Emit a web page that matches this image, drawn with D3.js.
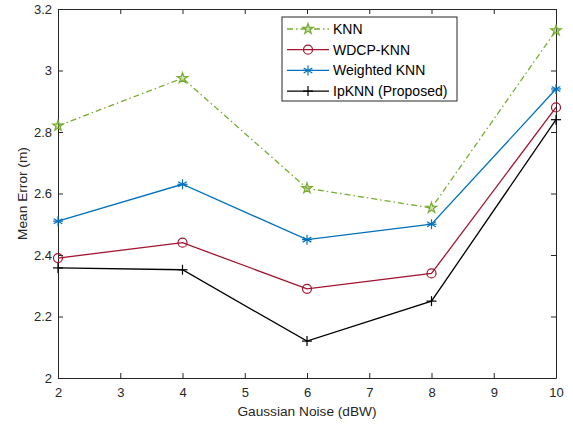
<!DOCTYPE html>
<html>
<head>
<meta charset="utf-8">
<style>
  body { margin: 0; background: #fff; font-family: "Liberation Sans", Arial, sans-serif; }
  .axis text { font-size: 13px; fill: #262626; }
  .axis path, .axis line { stroke: #262626; }
</style>
<title>Mean Error vs Gaussian Noise</title>
</head>
<body>
<script src="https://cdn.jsdelivr.net/npm/d3@7"></script>
<script>

// data
var noise = [2, 4, 6, 8, 10];
var knn      = [2.82, 2.975, 2.617, 2.553, 3.13];
var wdcpKnn  = [2.39, 2.44, 2.29, 2.34, 2.88];
var weighted = [2.51, 2.63, 2.45, 2.50, 2.94];
var ipKnn    = [2.358, 2.352, 2.12, 2.25, 2.84];
var xTicks = [2, 3, 4, 5, 6, 7, 8, 9, 10];
var yTicks = [2, 2.2, 2.4, 2.6, 2.8, 3, 3.2];

var series = [
  {name: "KNN", values: knn, color: "#77AC30", dash: "6,3,1.5,3", marker: "star"},
  {name: "WDCP-KNN", values: wdcpKnn, color: "#A2142F", dash: null, marker: "circle"},
  {name: "Weighted KNN", values: weighted, color: "#0072BD", dash: null, marker: "asterisk"},
  {name: "IpKNN (Proposed)", values: ipKnn, color: "#000000", dash: null, marker: "plus"}
];

var W = 573, H = 424;
var margin = {top: 9, right: 17, bottom: 46, left: 58};
var width = W - margin.left - margin.right,
    height = H - margin.top - margin.bottom;

var svg = d3.select("body").append("svg")
    .attr("width", W)
    .attr("height", H)
  .append("g")
    .attr("transform", `translate(${margin.left},${margin.top})`);

var x = d3.scaleLinear().domain([2, 10]).range([0, width]);
var y = d3.scaleLinear().domain([2, 3.2]).range([height, 0]);

var fmt = d => d3.format("~g")(d);

// axes, ticks pointing inward, mirrored on top/right
svg.append("g").attr("class", "axis")
    .attr("transform", `translate(0,${height})`)
    .call(d3.axisBottom(x).tickValues(xTicks).tickFormat(fmt).tickSizeInner(-5).tickSizeOuter(0).tickPadding(10));
svg.append("g").attr("class", "axis")
    .call(d3.axisLeft(y).tickValues(yTicks).tickFormat(fmt).tickSizeInner(-5).tickSizeOuter(0).tickPadding(6));
svg.append("g").attr("class", "axis")
    .call(d3.axisTop(x).tickValues(xTicks).tickFormat("").tickSizeInner(-5).tickSizeOuter(0));
svg.append("g").attr("class", "axis")
    .attr("transform", `translate(${width},0)`)
    .call(d3.axisRight(y).tickValues(yTicks).tickFormat("").tickSizeInner(-5).tickSizeOuter(0));

// marker drawer
function drawMarker(g, type, color) {
  if (type === "star") {
    g.append("path")
      .attr("d", d3.symbol().type(d3.symbolStar).size(34)())
      .attr("fill", color).attr("fill-opacity", 0.35)
      .attr("stroke", color).attr("stroke-width", 1.2);
  } else if (type === "circle") {
    g.append("circle").attr("r", 4.5)
      .attr("fill", "none").attr("stroke", color).attr("stroke-width", 1.2);
  } else if (type === "asterisk") {
    var r = 5;
    [0, 60, 120].forEach(function(a) {
      g.append("line").attr("x1", 0).attr("y1", -r).attr("x2", 0).attr("y2", r)
        .attr("transform", `rotate(${a})`)
        .attr("stroke", color).attr("stroke-width", 1.2);
    });
    g.append("line").attr("x1", -r).attr("x2", r).attr("y1", 0).attr("y2", 0)
      .attr("stroke", color).attr("stroke-width", 1.2);
  } else if (type === "plus") {
    var p = 5;
    g.append("line").attr("x1", -p).attr("x2", p).attr("y1", 0).attr("y2", 0)
      .attr("stroke", color).attr("stroke-width", 1.2);
    g.append("line").attr("x1", 0).attr("x2", 0).attr("y1", -p).attr("y2", p)
      .attr("stroke", color).attr("stroke-width", 1.2);
  }
}

var line = d3.line().x(d => x(d[0])).y(d => y(d[1]));

series.forEach(function(s) {
  var pts = noise.map((n, i) => [n, s.values[i]]);
  svg.append("path")
    .datum(pts)
    .attr("d", line)
    .attr("fill", "none")
    .attr("stroke", s.color)
    .attr("stroke-width", 1.3)
    .attr("stroke-dasharray", s.dash);
  pts.forEach(function(p) {
    var g = svg.append("g").attr("transform", `translate(${x(p[0])},${y(p[1])})`);
    drawMarker(g, s.marker, s.color);
  });
});

// legend
var lg = svg.append("g").attr("transform", `translate(${282 - margin.left},${17 - margin.top})`);
lg.append("rect")
  .attr("width", 175).attr("height", 84)
  .attr("fill", "#fff").attr("stroke", "#262626").attr("stroke-width", 1);
series.forEach(function(s, i) {
  var ry = 12 + i * 20.7;
  lg.append("line")
    .attr("x1", 5).attr("x2", 47).attr("y1", ry).attr("y2", ry)
    .attr("stroke", s.color).attr("stroke-width", 1.3)
    .attr("stroke-dasharray", s.dash);
  var g = lg.append("g").attr("transform", `translate(26,${ry})`);
  drawMarker(g, s.marker, s.color);
  lg.append("text")
    .attr("x", 51).attr("y", ry)
    .attr("dy", "0.35em")
    .style("font-size", "14px")
    .attr("fill", "#000")
    .text(s.name);
});

// axis labels
svg.append("text")
  .attr("x", width / 2)
  .attr("y", height + 38)
  .style("text-anchor", "middle")
  .style("font-size", "13.7px")
  .attr("fill", "#262626")
  .text("Gaussian Noise (dBW)");

svg.append("text")
  .attr("transform", "rotate(-90)")
  .attr("x", -height / 2)
  .attr("y", -31)
  .style("text-anchor", "middle")
  .style("font-size", "13.7px")
  .attr("fill", "#262626")
  .text("Mean Error (m)");

</script>
</body>
</html>
